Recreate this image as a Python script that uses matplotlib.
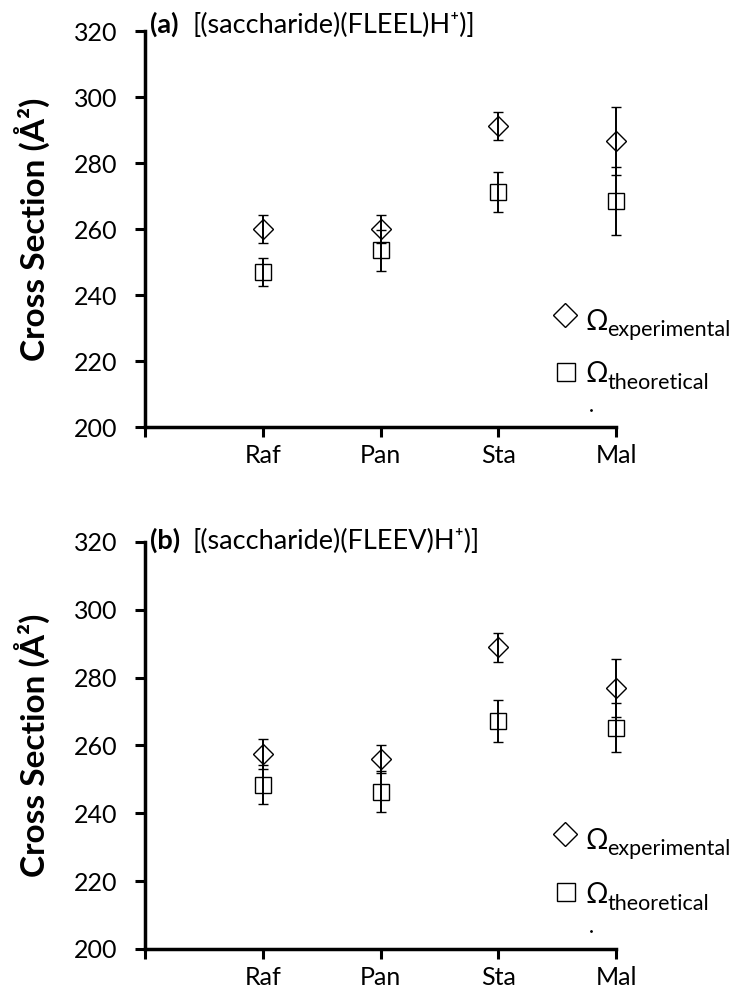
import matplotlib
matplotlib.use("Agg")
import matplotlib.pyplot as plt

plt.rcParams["font.family"] = ["Lato", "DejaVu Sans"]

sugars = ["Raf", "Pan", "Sta", "Mal"]

# (a) [(saccharide)(FLEEL)H+)]
fleel_exp = [260.0, 260.0, 291.3, 286.7]
fleel_exp_err = [4.3, 4.3, 4.3, 10.2]
fleel_theo = [247.0, 253.6, 271.2, 268.4]
fleel_theo_err = [4.2, 6.2, 6.1, 10.3]

# (b) [(saccharide)(FLEEV)H+)]
fleev_exp = [257.5, 256.0, 288.9, 276.9]
fleev_exp_err = [4.5, 4.2, 4.4, 8.5]
fleev_theo = [248.4, 246.4, 267.3, 265.3]
fleev_theo_err = [5.8, 6.1, 6.2, 7.1]

yticks = [200, 220, 240, 260, 280, 300, 320]


def draw_panel(ax, exp, exp_err, theo, theo_err, tag, ion, title_y):
    x = list(range(1, len(sugars) + 1))
    ax.errorbar(x, exp, yerr=exp_err, fmt="D", mfc="none", mec="black",
                mew=1.0, ms=10.5, ecolor="black", elinewidth=1.4,
                capsize=3.3, capthick=1.4, zorder=3, clip_on=False)
    ax.errorbar(x, theo, yerr=theo_err, fmt="s", mfc="none", mec="black",
                mew=1.0, ms=11.5, ecolor="black", elinewidth=1.4,
                capsize=3.3, capthick=1.4, zorder=3, clip_on=False)

    ax.set_xlim(0, 4)
    ax.set_ylim(200, 320)
    ax.set_yticks(yticks)
    ax.set_xticks([0] + x)
    ax.set_xticklabels([""] + sugars)
    ax.tick_params(axis="y", direction="out", length=7, width=2.2, pad=13,
                   labelsize=18)
    ax.tick_params(axis="x", direction="out", length=7, width=2.2, pad=5,
                   labelsize=18)
    for side in ["top", "right"]:
        ax.spines[side].set_visible(False)
    for side in ["left", "bottom"]:
        ax.spines[side].set_linewidth(2.5)

    ax.text(0.042, title_y, tag, fontsize=19.5, fontweight="bold",
            va="baseline")
    ax.text(0.40, title_y, ion, fontsize=19.5, va="baseline")

    # hand-made legend
    ax.plot([3.571], [234.0], marker="D", ms=12.7, mfc="none", mec="black",
            mew=1.0, clip_on=False)
    ax.plot([3.575], [216.7], marker="s", ms=13, mfc="none", mec="black",
            mew=1.0, clip_on=False)
    ax.text(3.737, 229.5, "\u03a9", fontsize=20, va="baseline", clip_on=False)
    ax.text(3.924, 227.6, "experimental", fontsize=15.5, va="baseline",
            clip_on=False)
    ax.text(3.737, 213.6, "\u03a9", fontsize=20, va="baseline", clip_on=False)
    ax.text(3.924, 211.5, "theoretical", fontsize=15.5, va="baseline",
            clip_on=False)
    ax.plot([3.79], [205.2], marker=".", ms=2, color="black", clip_on=False)


fig = plt.figure(figsize=(7.35, 9.91), dpi=100)
ax_a = fig.add_axes([0.1973, 0.5691, 0.6408, 0.3996])
ax_b = fig.add_axes([0.1973, 0.0424, 0.6408, 0.4107])

draw_panel(ax_a, fleel_exp, fleel_exp_err, fleel_theo, fleel_theo_err,
           "(a)", "[(saccharide)(FLEEL)H\u207a)]", 319.4)
draw_panel(ax_b, fleev_exp, fleev_exp_err, fleev_theo, fleev_theo_err,
           "(b)", "[(saccharide)(FLEEV)H\u207a)]", 318.0)

for ax in (ax_a, ax_b):
    pos = ax.get_position()
    fig.text(0.043, (pos.y0 + pos.y1) / 2, "Cross Section (\u00c5\u00b2)",
             rotation=90, ha="center", va="center", fontsize=24,
             fontweight="bold")

fig.savefig("out.png", dpi=100)
